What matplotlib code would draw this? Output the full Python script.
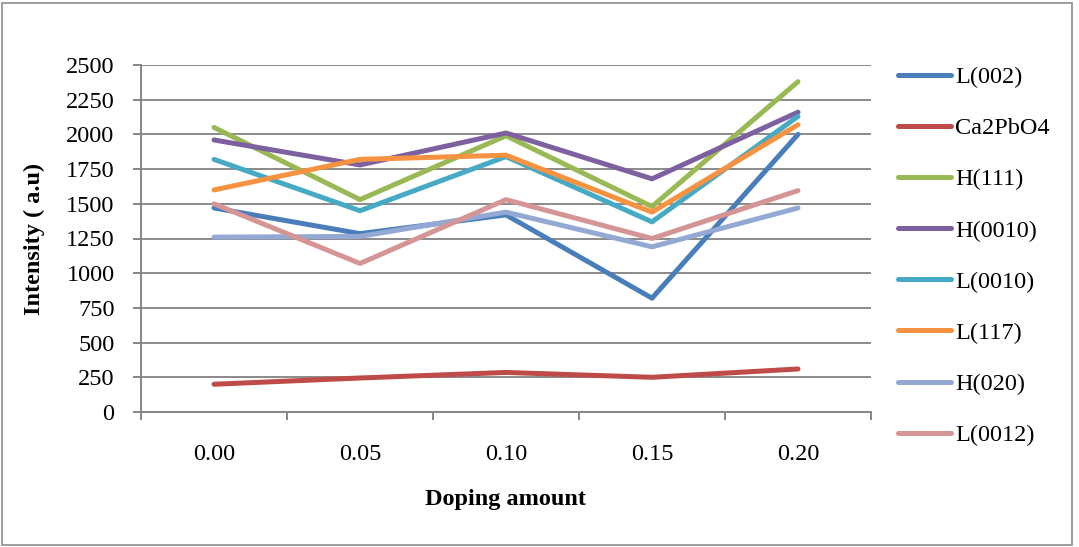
import matplotlib
matplotlib.use("Agg")
import matplotlib.pyplot as plt
from matplotlib.patches import Rectangle

# Doping amounts (categories on the x axis)
doping = ["0.00", "0.05", "0.10", "0.15", "0.20"]

# XRD peak intensities per phase / reflection
L002 = [1470, 1285, 1420, 820, 2000]
Ca2PbO4 = [200, 245, 285, 250, 310]
H111 = [2050, 1530, 1990, 1480, 2380]
H0010 = [1960, 1780, 2010, 1680, 2160]
L0010 = [1820, 1450, 1840, 1370, 2130]
L117 = [1600, 1820, 1850, 1440, 2070]
H020 = [1260, 1265, 1440, 1190, 1470]
L0012 = [1500, 1070, 1530, 1250, 1595]

series_names = ["L(002)", "Ca2PbO4", "H(111)", "H(0010)", "L(0010)", "L(117)", "H(020)", "L(0012)"]
series_values = [L002, Ca2PbO4, H111, H0010, L0010, L117, H020, L0012]
series_colors = ["#4A7EBB", "#BE4B48", "#98B954", "#7D60A0", "#46AAC5", "#F69240", "#93A9D3", "#D69595"]

y_ticks = [0, 250, 500, 750, 1000, 1250, 1500, 1750, 2000, 2250, 2500]

plt.rcParams["font.family"] = ["Liberation Serif", "DejaVu Serif"]

W, H = 1079, 547
fig = plt.figure(figsize=(W / 100, H / 100), dpi=100)

# axes box in pixel units
left, right, top, bottom = 141, 871, 65, 412
ax = fig.add_axes([left / W, 1 - bottom / H, (right - left) / W, (bottom - top) / H])

x = list(range(len(doping)))
for name, vals, col in zip(series_names, series_values, series_colors):
    ax.plot(x, vals, color=col, lw=3.6, solid_capstyle="round",
            solid_joinstyle="round", label=name)

ax.set_xlim(-0.5, len(doping) - 0.5)
ax.set_ylim(0, 2500)
ax.set_yticks(y_ticks)
ax.set_yticklabels([str(v) for v in y_ticks], fontsize=17.5)
ax.set_xticks(x)
ax.set_xticklabels(doping, fontsize=17.5)
ax.set_xticks([i - 0.5 for i in range(len(doping) + 1)], minor=True)

ax.grid(axis="y", color="#8A8A8A", lw=1.4)
ax.set_axisbelow(True)
for s in ["top", "right"]:
    ax.spines[s].set_visible(False)
for s in ["left", "bottom"]:
    ax.spines[s].set_color("#868686")
    ax.spines[s].set_linewidth(1.4)

ax.tick_params(axis="x", which="major", length=0, pad=23)
ax.tick_params(axis="x", which="minor", length=6, width=1.4, color="#868686")
ax.tick_params(axis="y", length=6, width=1.4, color="#868686", pad=13)

ax.set_xlabel("Doping amount", fontsize=17.5, fontweight="bold", labelpad=17)
ax.set_ylabel("Intensity ( a.u)", fontsize=17.5, fontweight="bold", labelpad=15)

leg = ax.legend(loc="upper left", bbox_to_anchor=(898 / W, 1 - 66 / H),
                bbox_transform=fig.transFigure, frameon=False, fontsize=17.5,
                handlelength=2.2, handletextpad=0.15, labelspacing=1.2,
                borderaxespad=0, borderpad=0)
for line in leg.get_lines():
    line.set_linewidth(3.6)

# chart area border
fig.patches.append(Rectangle((2 / W, 2 / H), (1072 - 2) / W, (H - 5) / H,
                             transform=fig.transFigure, fill=False,
                             edgecolor="#8C8C8C", lw=1.2))

fig.savefig("out.png", dpi=100)
